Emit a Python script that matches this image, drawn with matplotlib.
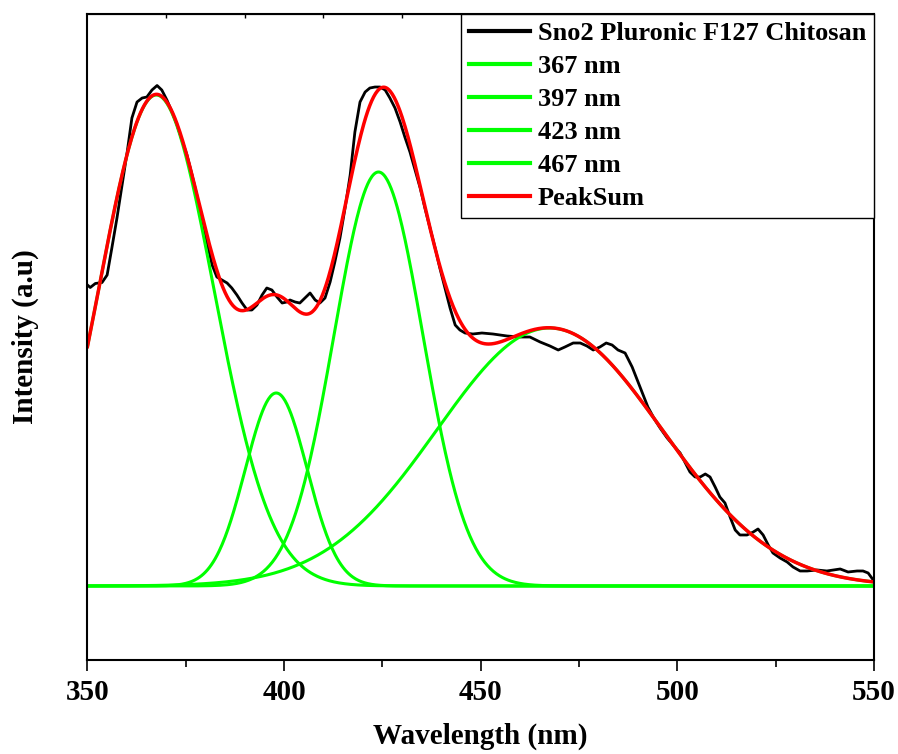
import numpy as np
import matplotlib
matplotlib.use("Agg")
import matplotlib.pyplot as plt

wavelength = [350.0, 350.7, 352.0, 353.7, 355.0, 356.2, 357.5, 358.8, 360.1, 361.3,
              362.6, 363.9, 365.1, 366.4, 367.7, 368.9, 370.2, 371.5, 372.8, 374.0,
              375.3, 376.6, 377.8, 379.1, 380.4, 381.7, 382.9, 384.2, 385.5, 386.7,
              388.0, 389.3, 390.6, 391.8, 393.1, 394.4, 395.6, 396.9, 398.2, 399.5,
              400.7, 401.5, 402.8, 404.0, 405.3, 406.6, 407.9, 409.1, 410.4, 411.7,
              412.9, 414.2, 415.5, 416.8, 418.0, 419.3, 420.6, 421.8, 423.1, 424.4,
              425.7, 426.9, 428.2, 429.5, 430.7, 432.0, 433.3, 434.6, 435.8, 437.1,
              438.4, 439.6, 440.9, 442.2, 443.5, 444.7, 446.0, 448.0, 450.3, 453.1,
              456.7, 460.0, 462.5, 465.1, 467.6, 469.7, 471.4, 473.5, 475.3, 477.0,
              478.6, 480.3, 481.9, 483.4, 484.9, 486.7, 488.5, 490.5, 492.5, 494.3,
              495.6, 497.4, 498.9, 500.7, 502.0, 503.2, 504.5, 505.8, 507.1, 508.3,
              509.6, 510.8, 512.1, 513.4, 514.7, 515.9, 517.7, 519.3, 520.5, 521.8,
              523.1, 524.3, 526.1, 527.9, 529.4, 531.2, 533.0, 535.5, 538.0, 541.4,
              543.4, 545.7, 547.2, 548.5, 549.8]
intensity = [0.602, 0.597, 0.605, 0.607, 0.622, 0.676, 0.736, 0.802, 0.868, 0.936,
             0.968, 0.976, 0.978, 0.992, 1.001, 0.992, 0.972, 0.948, 0.922, 0.892,
             0.862, 0.822, 0.782, 0.736, 0.688, 0.642, 0.618, 0.612, 0.606, 0.596,
             0.582, 0.566, 0.552, 0.552, 0.562, 0.582, 0.596, 0.592, 0.578, 0.566,
             0.568, 0.572, 0.568, 0.566, 0.576, 0.586, 0.572, 0.566, 0.576, 0.608,
             0.648, 0.696, 0.756, 0.822, 0.908, 0.968, 0.988, 0.996, 0.998, 0.998,
             0.992, 0.976, 0.956, 0.928, 0.898, 0.868, 0.832, 0.796, 0.756, 0.716,
             0.676, 0.636, 0.596, 0.556, 0.522, 0.512, 0.506, 0.504, 0.506, 0.504,
             0.500, 0.498, 0.498, 0.488, 0.480, 0.472, 0.478, 0.486, 0.486, 0.480,
             0.472, 0.478, 0.486, 0.482, 0.472, 0.466, 0.438, 0.398, 0.358, 0.332,
             0.316, 0.296, 0.282, 0.266, 0.246, 0.228, 0.218, 0.218, 0.224, 0.218,
             0.198, 0.178, 0.166, 0.138, 0.112, 0.102, 0.102, 0.108, 0.114, 0.102,
             0.082, 0.066, 0.056, 0.048, 0.038, 0.030, 0.030, 0.032, 0.030, 0.034,
             0.028, 0.030, 0.030, 0.026, 0.012]

# fitted gaussian components
peak_labels = ["367 nm", "397 nm", "423 nm", "467 nm"]
peak_centers = [367.5, 398.0, 424.0, 467.5]
peak_heights = [0.982, 0.386, 0.828, 0.516]
peak_sigmas = [14.6, 7.85, 11.3, 28.6]

plt.rcParams["font.family"] = ["Liberation Serif", "DejaVu Serif"]
plt.rcParams["font.weight"] = "bold"

fig = plt.figure(figsize=(8.98, 7.54), dpi=100)
ax = fig.add_axes([0.0974, 0.1247, 0.8759, 0.8567])

x = np.linspace(350, 550, 801)
ax.plot(wavelength, intensity, color="black", lw=2.0, label="Sno2 Pluronic F127 Chitosan")

total = np.zeros_like(x)
for lab, c, h, s in zip(peak_labels, peak_centers, peak_heights, peak_sigmas):
    comp = h * np.exp(-(x - c) ** 2 / (2 * s ** 2))
    total += comp
    ax.plot(x, comp, color="#00ff00", lw=2.2, label=lab)
ax.plot(x, total, color="#ff0000", lw=2.5, label="PeakSum")

ax.set_xlim(350, 550)
ax.set_ylim(-0.148, 1.144)
ax.set_xticks(np.arange(350, 551, 50))
ax.set_xticks(np.arange(375, 550, 50), minor=True)
ax.set_yticks([])
ax.tick_params(axis="x", which="major", direction="out", length=8, width=1.2,
               labelsize=21, pad=6)
ax.tick_params(axis="x", which="minor", direction="out", length=5, width=1.2)
for sp in ax.spines.values():
    sp.set_linewidth(1.5)

top = ax.secondary_xaxis("top")
top.set_xticks(np.arange(370, 550, 20))
top.tick_params(direction="in", length=3, width=1, labeltop=False)
top.set_xticklabels([])

ax.set_xlabel("Wavelength (nm)", fontsize=21, fontweight="bold", labelpad=12)
ax.set_ylabel("Intensity (a.u)", fontsize=21, fontweight="bold", labelpad=35)

leg = ax.legend(loc="upper right", bbox_to_anchor=(1.0, 1.0), borderaxespad=0,
                fancybox=False, edgecolor="black", framealpha=1,
                prop={"size": 19, "weight": "bold"}, handlelength=2.3,
                handletextpad=0.3, labelspacing=0.36, borderpad=0.3)
leg.get_frame().set_linewidth(1.0)
for line in leg.get_lines():
    line.set_linewidth(3)

fig.savefig("out.png", dpi=100)
